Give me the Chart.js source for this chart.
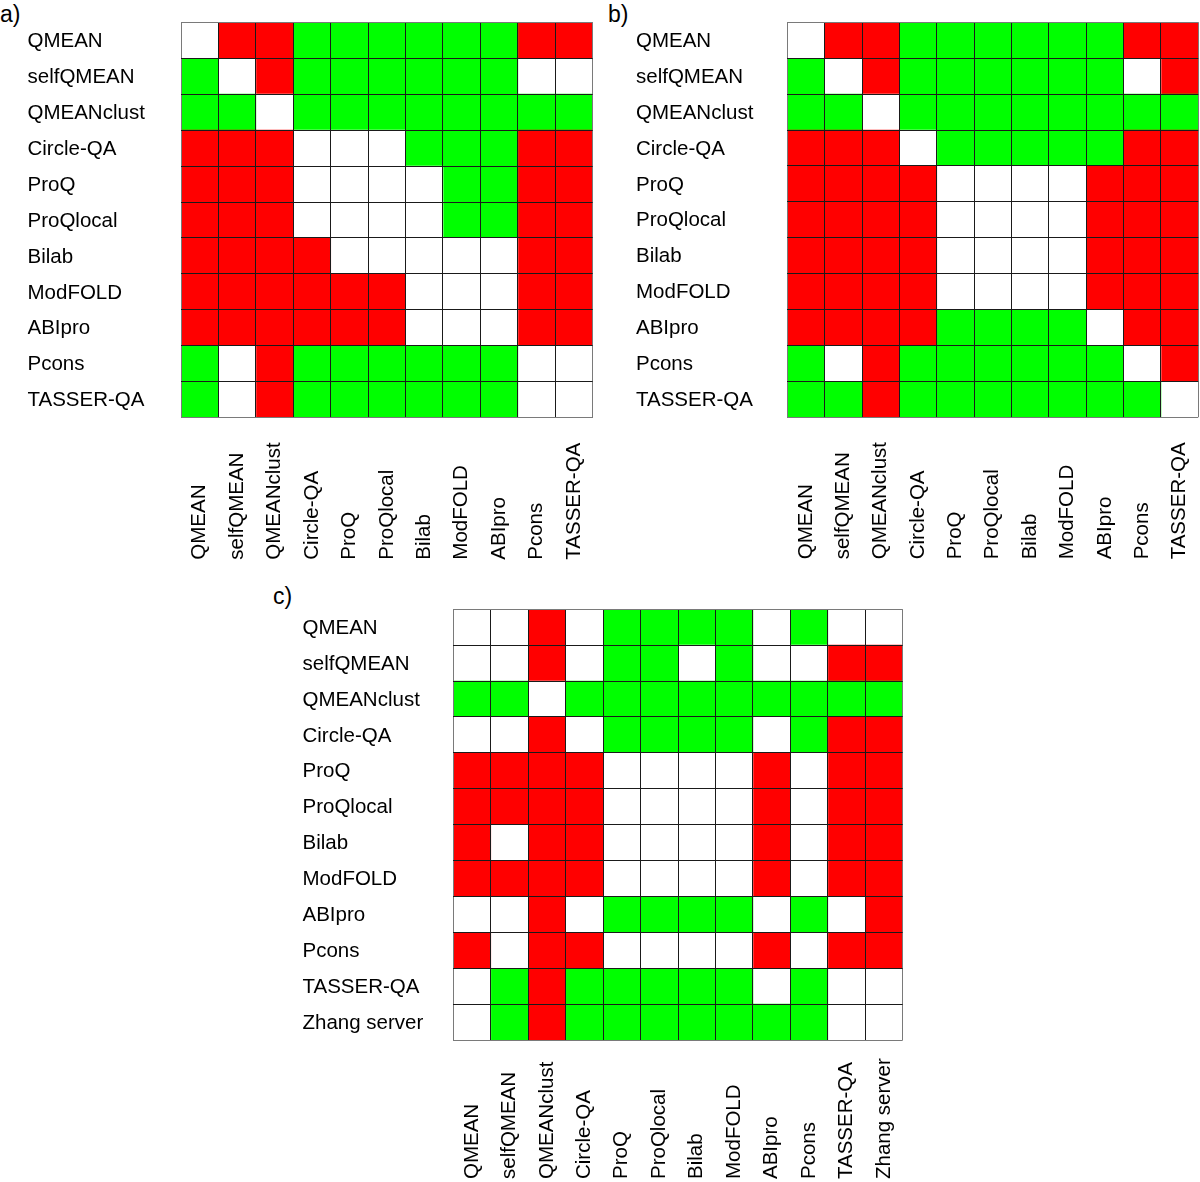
<!DOCTYPE html>
<html>
<head>
<meta charset="utf-8">
<script src="https://cdn.jsdelivr.net/npm/chart.js@4.4.1/dist/chart.umd.min.js"></script>
<style>
  html, body { margin: 0; padding: 0; background: #fff; }
  body { width: 1200px; height: 1182px; position: relative; overflow: hidden; font-family: "Liberation Sans", Arial, sans-serif; }
  .panel { position: absolute; }
  .letter { position: absolute; font-size: 23px; line-height: 23px; color: #000; }
  canvas { display: block; }
</style>
</head>
<body>
<div class="letter" style="left:0px;top:3px;">a)</div>
<div class="letter" style="left:608px;top:3px;">b)</div>
<div class="letter" style="left:273px;top:585px;">c)</div>
<div class="panel" style="left:0px;top:0px;width:600px;height:570px;"><canvas id="cA" width="600" height="570"></canvas></div>
<div class="panel" style="left:600px;top:0px;width:600px;height:570px;"><canvas id="cB" width="600" height="570"></canvas></div>
<div class="panel" style="left:260px;top:590px;width:660px;height:592px;"><canvas id="cC" width="660" height="592"></canvas></div>
<script>
// Methods compared (rows = columns in each panel)
const methodsAB = ["QMEAN", "selfQMEAN", "QMEANclust", "Circle-QA", "ProQ", "ProQlocal",
  "Bilab", "ModFOLD", "ABIpro", "Pcons", "TASSER-QA"];
const methodsC = ["QMEAN", "selfQMEAN", "QMEANclust", "Circle-QA", "ProQ", "ProQlocal",
  "Bilab", "ModFOLD", "ABIpro", "Pcons", "TASSER-QA", "Zhang server"];

// Cell outcome per row (G = green, R = red, W = white / no difference)
const statusA = [
  "WRRGGGGGGRR",
  "GWRGGGGGGWW",
  "GGWGGGGGGGG",
  "RRRWWWGGGRR",
  "RRRWWWWGGRR",
  "RRRWWWWGGRR",
  "RRRRWWWWWRR",
  "RRRRRRWWWRR",
  "RRRRRRWWWRR",
  "GWRGGGGGGWW",
  "GWRGGGGGGWW"
];
const statusB = [
  "WRRGGGGGGRR",
  "GWRGGGGGGWR",
  "GGWGGGGGGGG",
  "RRRWGGGGGRR",
  "RRRRWWWWRRR",
  "RRRRWWWWRRR",
  "RRRRWWWWRRR",
  "RRRRWWWWRRR",
  "RRRRGGGGWRR",
  "GWRGGGGGGWR",
  "GGRGGGGGGGW"
];
const statusC = [
  "WWRWGGGGWGWW",
  "WWRWGGWGWWRR",
  "GGWGGGGGGGGG",
  "WWRWGGGGWGRR",
  "RRRRWWWWRWRR",
  "RRRRWWWWRWRR",
  "RWRRWWWWRWRR",
  "RRRRWWWWRWRR",
  "WWRWGGGGWGWR",
  "RWRRWWWWRWRR",
  "WGRGGGGGWGWW",
  "WGRGGGGGGGWW"
];

const COLORS = { G: "#00ff00", R: "#ff0000", W: "#ffffff" };
const FONT = { family: '"Liberation Sans", Arial, sans-serif', size: 20.5 };

const bottomLabels = {
  id: "bottomLabels",
  afterDraw(chart, args, opts) {
    const { ctx, chartArea } = chart;
    const xs = chart.scales.x;
    ctx.save();
    ctx.font = FONT.size + "px " + FONT.family;
    ctx.fillStyle = "#000";
    ctx.textAlign = "left";
    ctx.textBaseline = "middle";
    opts.labels.forEach((lab, j) => {
      const px = xs.getPixelForValue(j + 0.5);
      ctx.save();
      ctx.translate(px, chartArea.bottom + opts.offset);
      ctx.rotate(-Math.PI / 2);
      ctx.fillText(lab, 0, 0);
      ctx.restore();
    });
    ctx.restore();
  }
};

function gridColor(n) {
  return (c) => (c.index === undefined || c.index === 0 || c.index === n) ? "#7a7a7a" : "#1a1a1a";
}

function makeChart(id, labels, status, pad, yWidth, labelOffset) {
  const n = labels.length;
  const datasets = labels.map((col, j) => ({
    label: col,
    data: labels.map(() => [j, j + 1]),
    backgroundColor: status.map(row => COLORS[row[j]]),
    borderWidth: 0,
    grouped: false,
    barPercentage: 1,
    categoryPercentage: 1
  }));
  return new Chart(document.getElementById(id), {
    type: "bar",
    data: { labels: labels, datasets: datasets },
    options: {
      indexAxis: "y",
      responsive: false,
      animation: false,
      devicePixelRatio: 1,
      layout: { padding: pad },
      plugins: {
        legend: { display: false },
        tooltip: { enabled: false },
        bottomLabels: { labels: labels, offset: labelOffset }
      },
      scales: {
        x: {
          type: "linear",
          min: 0,
          max: n,
          ticks: { display: false, stepSize: 1 },
          grid: { color: gridColor(n), lineWidth: 1, drawTicks: false, z: 1 },
          border: { display: false },
          afterFit: (s) => { s.height = 0; }
        },
        y: {
          type: "category",
          ticks: { font: FONT, color: "#000", crossAlign: "far", padding: 0, labelOffset: 1 },
          grid: { offset: true, color: gridColor(n), lineWidth: 1, drawTicks: false, z: 1 },
          border: { display: false },
          afterFit: (s) => { s.width = yWidth; }
        }
      }
    },
    plugins: [bottomLabels]
  });
}

makeChart("cA", methodsAB, statusA, { left: 27.5, top: 22.3, right: 7.3, bottom: 152.3 }, 153.5, 142);
makeChart("cB", methodsAB, statusB, { left: 36, top: 22.3, right: 1.7, bottom: 152.7 }, 151.3, 142);
makeChart("cC", methodsC, statusC, { left: 42.5, top: 19.3, right: 17.3, bottom: 142 }, 150.8, 139);
</script>
</body>
</html>
